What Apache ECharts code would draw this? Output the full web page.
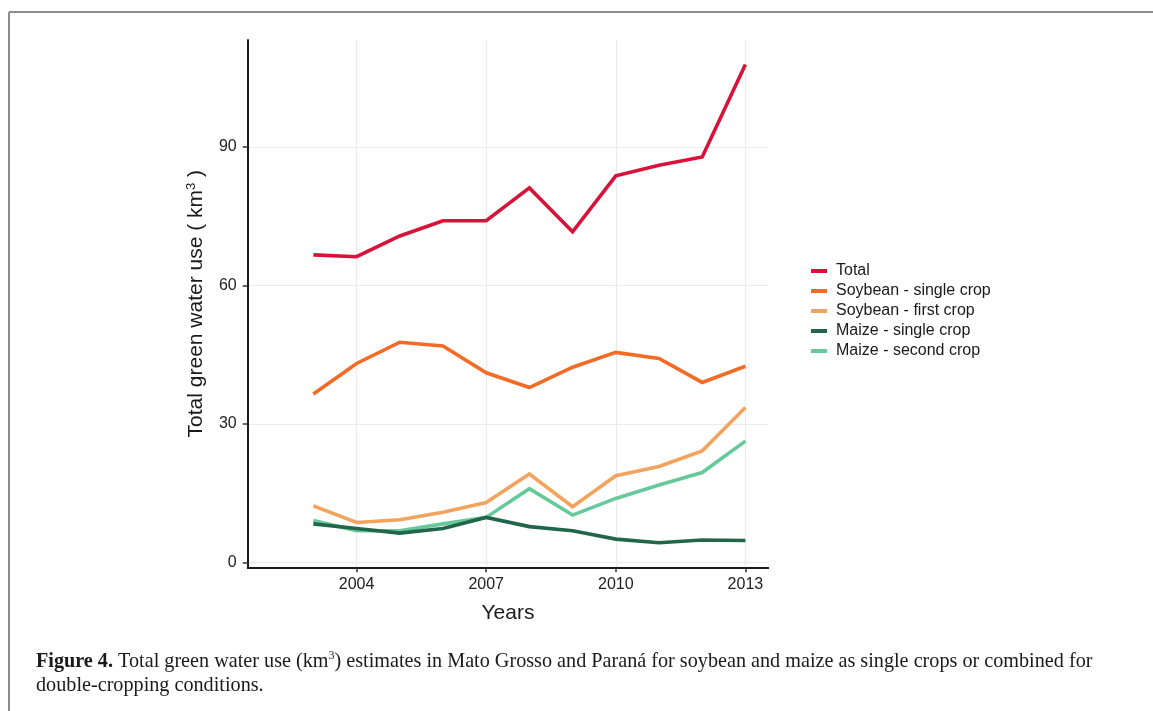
<!DOCTYPE html>
<html>
<head>
<meta charset="utf-8">
<script src="https://cdn.jsdelivr.net/npm/echarts@6/dist/echarts.min.js"></script>
<style>
  html, body { margin: 0; padding: 0; background: #fff; }
  #chart { width: 1153px; height: 711px; }
</style>
</head>
<body>
<div id="chart"></div>
<script>
const years = [2003, 2004, 2005, 2006, 2007, 2008, 2009, 2010, 2011, 2012, 2013];
const total = [66.6, 66.2, 70.7, 74.0, 74.0, 81.1, 71.6, 83.7, 86.0, 87.8, 107.8];
const soySingle = [36.5, 43.1, 47.7, 46.9, 41.1, 37.9, 42.3, 45.5, 44.2, 39.0, 42.5];
const soyFirst = [12.3, 8.7, 9.3, 10.9, 13.0, 19.2, 12.1, 18.8, 20.8, 24.2, 33.6];
const maizeSingle = [8.4, 7.4, 6.4, 7.4, 9.8, 7.8, 6.9, 5.1, 4.3, 4.9, 4.8];
const maizeSecond = [9.1, 6.9, 6.9, 8.4, 9.8, 16.0, 10.3, 13.9, 16.8, 19.5, 26.3];
const xTicks = [2004, 2007, 2010, 2013];
const yTicks = [0, 30, 60, 90];
const seriesNames = ['Total', 'Soybean - single crop', 'Soybean - first crop', 'Maize - single crop', 'Maize - second crop'];
const seriesColors = ['#d7133a', '#f36b24', '#f2a45f', '#22664a', '#66c99b'];
const seriesData = [total, soySingle, soyFirst, maizeSingle, maizeSecond];

const chart = echarts.init(document.getElementById('chart'), null, { renderer: 'canvas' });

const series = seriesNames.map((name, i) => ({
  name: name,
  type: 'line',
  data: years.map((y, j) => [y, seriesData[i][j]]),
  showSymbol: false,
  symbol: 'none',
  lineStyle: { width: 3.6, color: seriesColors[i], join: 'miter' },
  itemStyle: { color: seriesColors[i] },
  z: 10 - i,
  animation: false
}));

const sans = 'Liberation Sans, Arial, sans-serif';
const serif = 'Liberation Serif, Times New Roman, serif';

const option = {
  animation: false,
  backgroundColor: '#ffffff',
  grid: { left: 247.7, right: 384.7, top: 40, bottom: 143.7, containLabel: false },
  legend: {
    orient: 'vertical',
    left: 806,
    top: 257,
    icon: 'rect',
    itemWidth: 16,
    itemHeight: 4,
    itemGap: 2,
    data: seriesNames,
    textStyle: { fontFamily: sans, fontSize: 16, color: '#1a1a1a', lineHeight: 18, padding: [0, 0, 0, 4] }
  },
  xAxis: {
    type: 'value',
    min: 2001.48,
    max: 2013.53,
    name: 'Years',
    nameLocation: 'middle',
    nameGap: 35,
    nameTextStyle: { fontFamily: sans, fontSize: 21, color: '#1a1a1a' },
    axisLine: { show: true, onZero: false, lineStyle: { color: '#1a1a1a', width: 2 } },
    axisTick: { show: true, length: 5, customValues: xTicks, lineStyle: { color: '#333', width: 1.5 } },
    axisLabel: { customValues: xTicks, margin: 9, fontFamily: sans, fontSize: 16, color: '#222', formatter: v => String(v) },
    splitLine: { show: true, lineStyle: { color: '#ebebeb', width: 1.2 } }
  },
  yAxis: {
    type: 'value',
    min: -1.0,
    max: 113.1,
    name: 'Total green water use ( km{sup|3} )',
    nameLocation: 'middle',
    nameRotate: 90,
    nameGap: 39,
    nameTextStyle: {
      fontFamily: sans, fontSize: 21, color: '#1a1a1a',
      rich: { sup: { fontFamily: sans, fontSize: 13, color: '#1a1a1a', verticalAlign: 'top', padding: [0, 0, 11, 0] } }
    },
    axisLine: { show: true, onZero: false, lineStyle: { color: '#1a1a1a', width: 2 } },
    axisTick: { show: true, length: 5, customValues: yTicks, lineStyle: { color: '#333', width: 1.5 } },
    axisLabel: { customValues: yTicks, margin: 11, fontFamily: sans, fontSize: 16, color: '#222' },
    splitLine: { show: true, lineStyle: { color: '#ebebeb', width: 1.2 } }
  },
  graphic: [
    { type: 'line', shape: { x1: 9, y1: 12, x2: 1153, y2: 12 }, style: { stroke: '#8c8c8c', lineWidth: 2 } },
    { type: 'line', shape: { x1: 9, y1: 12, x2: 9, y2: 711 }, style: { stroke: '#8c8c8c', lineWidth: 2 } },
    {
      type: 'text', left: 36, top: 650,
      style: {
        text: '{b|Figure 4.} Total green water use (km{sp|3}) estimates in Mato Grosso and Paraná for soybean and maize as single crops or combined for\ndouble-cropping conditions.',
        fontFamily: serif,
        fontSize: 20.2,
        lineHeight: 24,
        fill: '#1a1a1a',
        rich: {
          b: { fontFamily: serif, fontSize: 20.2, fontWeight: 'bold', fill: '#1a1a1a', lineHeight: 24 },
          sp: { fontFamily: serif, fontSize: 12, fill: '#1a1a1a', verticalAlign: 'top', lineHeight: 24, padding: [0, 0, 9, 0] }
        }
      }
    }
  ],
  series: series
};

chart.setOption(option);
</script>
</body>
</html>
